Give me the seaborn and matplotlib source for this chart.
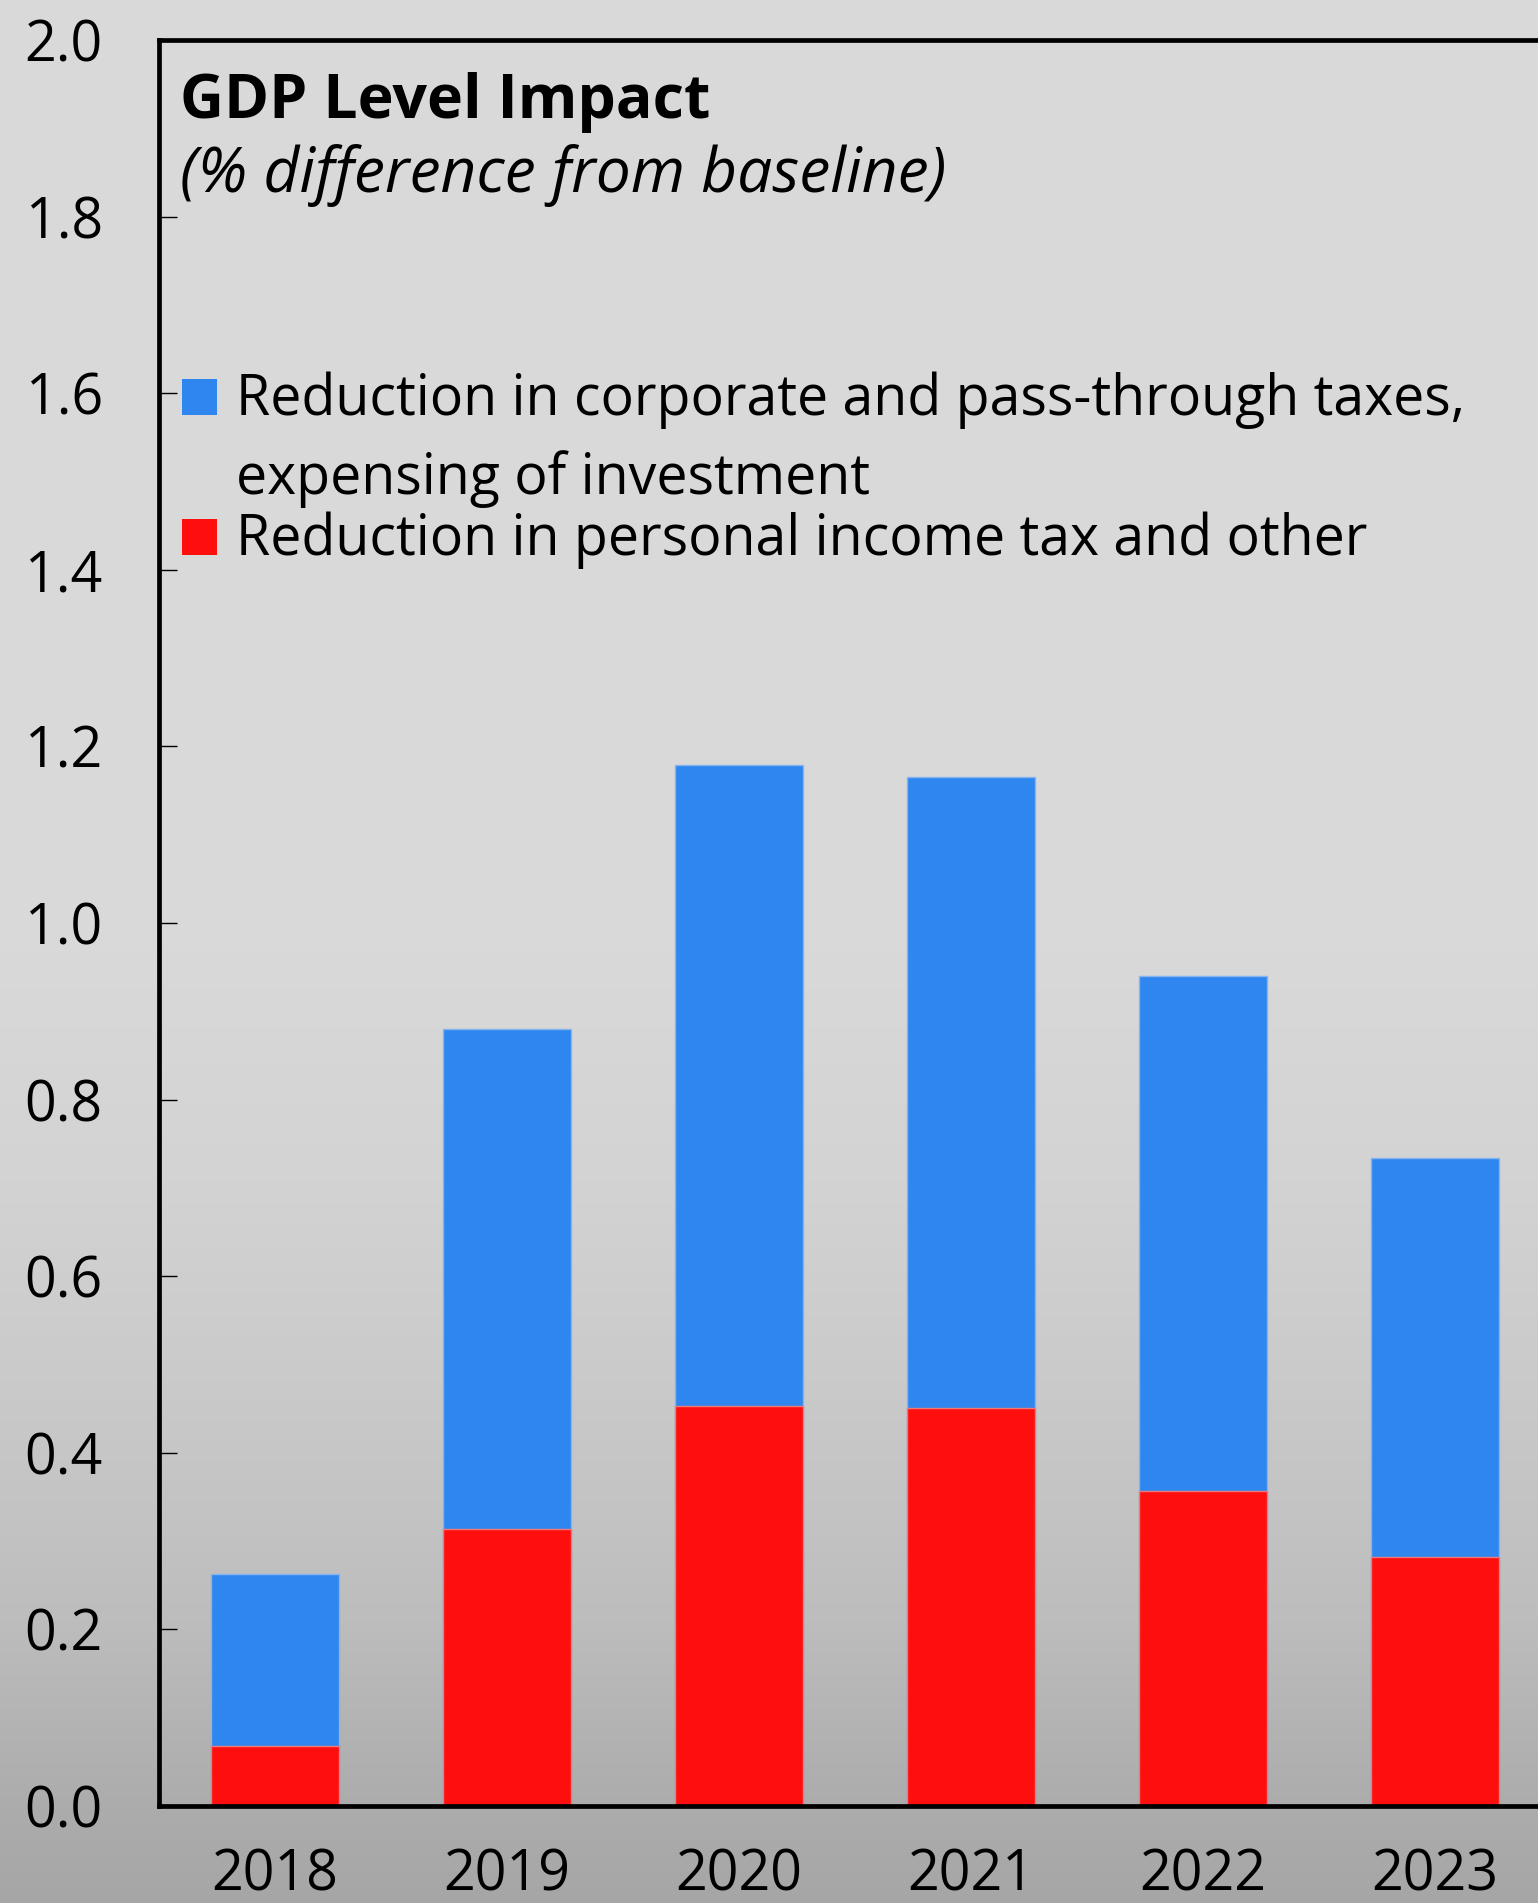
import numpy as np
import pandas as pd
import matplotlib
matplotlib.use("Agg")
import matplotlib.pyplot as plt
from matplotlib.patches import Rectangle
import seaborn as sns

# --- data -------------------------------------------------------------
years = ["2018", "2019", "2020", "2021", "2022", "2023"]
personal_other = [0.068, 0.314, 0.453, 0.451, 0.357, 0.282]
corporate_expensing = [0.195, 0.566, 0.726, 0.714, 0.583, 0.452]
y_ticks = [0.0, 0.2, 0.4, 0.6, 0.8, 1.0, 1.2, 1.4, 1.6, 1.8, 2.0]

title = "GDP Level Impact"
subtitle = "(% difference from baseline)"
legend_corp = ["Reduction in corporate and pass-through taxes,", "expensing of investment"]
legend_pers = "Reduction in personal income tax and other"

BLUE = "#2E86EE"
RED = "#FF0E0E"

df = pd.DataFrame({
    "year": years,
    "personal": personal_other,
    "corporate": corporate_expensing,
})
df["total"] = df["personal"] + df["corporate"]

# --- figure -----------------------------------------------------------
W, H = 1538, 1903
sns.set_theme(style="white")
plt.rcParams["font.family"] = ["Open Sans", "DejaVu Sans"]

fig = plt.figure(figsize=(W / 100, H / 100), dpi=100)

# grey background, flat at the top and darkening towards the bottom
bg = fig.add_axes([0, 0, 1, 1], zorder=-5)
rows = np.arange(H)
grey = np.interp(rows,
                 [0, 950, 1180, 1360, 1500, 1620, 1806, 1903],
                 [217, 217, 211, 203, 196, 189, 172, 166]) / 255.0
img = np.repeat(grey[:, None, None], 3, axis=2)
bg.imshow(img, aspect="auto", extent=[0, 1, 0, 1], origin="upper")
bg.set_axis_off()

left_px, right_px, top_px, bottom_px = 159, 1551, 40, 1806
ax = fig.add_axes([left_px / W, 1 - bottom_px / H,
                   (right_px - left_px) / W, (bottom_px - top_px) / H])
ax.set_facecolor("none")

sns.barplot(data=df, x="year", y="total", color=BLUE, saturation=1,
            width=0.55, edgecolor="#86B4EE", linewidth=1.0, ax=ax)
sns.barplot(data=df, x="year", y="personal", color=RED, saturation=1,
            width=0.55, edgecolor="#F07A7A", linewidth=1.0, ax=ax)

ax.set_xlim(-0.5, 5.5)
ax.set_ylim(0, 2.0)
ax.set_yticks(y_ticks)
ax.set_yticklabels([f"{t:.1f}" for t in y_ticks])
ax.set_xlabel("")
ax.set_ylabel("")

ax.tick_params(axis="y", direction="in", length=13, width=1.0, color="black",
               labelsize=40, pad=40.5, left=True)
ax.tick_params(axis="x", length=0, labelsize=40, pad=30)
for lab in ax.get_xticklabels() + ax.get_yticklabels():
    lab.set_color("black")

for side in ("left", "top", "bottom", "right"):
    ax.spines[side].set_visible(True)
    ax.spines[side].set_color("black")
    ax.spines[side].set_linewidth(3.4)

# --- title block ------------------------------------------------------
tx = 180 / W
fig.text(tx, 1 - 118 / H, title, fontsize=43.8, fontweight="bold",
         color="black", va="baseline", ha="left")
fig.text(tx, 1 - 192 / H, subtitle, fontsize=44.8, fontstyle="italic",
         color="black", va="baseline", ha="left")

# --- legend -----------------------------------------------------------
def key(y_top, color):
    fig.patches.append(Rectangle((182 / W, 1 - (y_top + 36) / H), 35 / W, 36 / H,
                                 transform=fig.transFigure, facecolor=color,
                                 edgecolor="none", zorder=5))

text_x = 236 / W
key(379, BLUE)
fig.text(text_x, 1 - 415 / H, legend_corp[0], fontsize=40, color="black",
         va="baseline", ha="left")
fig.text(text_x, 1 - 494 / H, legend_corp[1], fontsize=40, color="black",
         va="baseline", ha="left")
key(519, RED)
fig.text(text_x, 1 - 555 / H, legend_pers, fontsize=40, color="black",
         va="baseline", ha="left")

fig.savefig("out.png", dpi=100)
